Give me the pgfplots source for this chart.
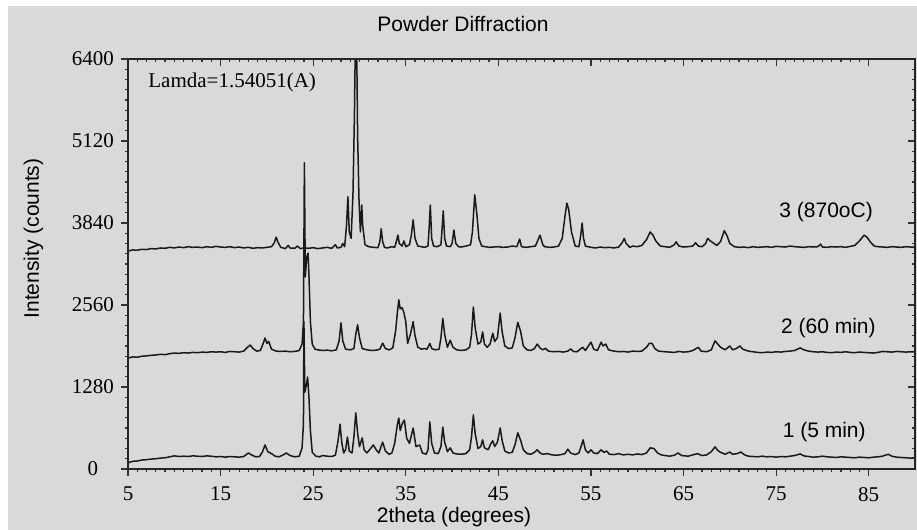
\documentclass[border=0pt]{standalone}
\usepackage{fontspec}
\setmainfont{Liberation Serif}
\setsansfont{Liberation Sans}
\usepackage{pgfplots}
\pgfplotsset{compat=1.18}
\definecolor{bg}{gray}{0.85}
\newcommand{\fs}{\fontsize{10.5}{12}\selectfont}

\pgfplotstableread{
x y
5 3400
5.5 3420
6 3415
6.5 3430
7 3425
7.5 3440
8 3435
8.5 3450
9 3445
9.5 3460
10 3450
10.5 3465
11 3455
11.5 3470
12 3460
12.5 3465
13 3455
13.5 3470
14 3460
14.5 3475
15 3465
15.5 3460
16 3470
16.5 3455
17 3465
17.5 3450
18 3460
18.5 3445
19 3455
19.5 3450
20 3460
20.5 3470
20.8 3530
21.0 3620
21.2 3540
21.5 3460
22 3440
22.3 3490
22.5 3450
23 3445
23.3 3480
23.6 3440
24 3450
24.5 3445
25 3455
25.5 3440
26 3450
26.5 3460
27 3445
27.4 3500
27.6 3450
28 3460
28.2 3520
28.4 3470
28.6 3800
28.75 4250
28.9 3700
29.1 3600
29.3 4300
29.45 5480
29.55 6600
29.7 6600
29.8 5200
29.95 4200
30.1 3700
30.25 4120
30.35 3800
30.6 3500
31 3470
31.5 3460
32 3455
32.2 3550
32.35 3750
32.5 3550
32.7 3460
33 3450
33.5 3470
33.8 3460
34 3560
34.15 3650
34.3 3520
34.6 3480
34.8 3560
35 3470
35.4 3500
35.6 3650
35.8 3890
36 3600
36.3 3480
36.7 3470
37 3460
37.4 3480
37.5 3700
37.65 4120
37.8 3600
38 3480
38.4 3470
38.8 3500
38.9 3700
39.05 4030
39.2 3600
39.4 3480
39.8 3470
40 3520
40.2 3730
40.4 3520
40.7 3470
41 3465
41.5 3480
42 3500
42.2 3700
42.45 4280
42.7 3950
42.9 3600
43.2 3480
43.6 3470
44 3460
44.5 3465
45 3470
45.5 3460
46 3465
46.5 3480
47 3470
47.3 3590
47.5 3470
48 3460
48.5 3470
49 3480
49.5 3650
49.8 3500
50 3470
50.5 3460
51 3465
51.5 3480
51.9 3600
52.2 3950
52.4 4150
52.6 4050
52.9 3700
53.3 3480
53.7 3470
53.9 3650
54.05 3840
54.2 3600
54.4 3480
55 3460
55.5 3450
56 3465
56.5 3455
57 3460
57.5 3450
58 3465
58.4 3540
58.6 3600
58.8 3520
59.2 3460
59.5 3480
60 3470
60.5 3490
61 3580
61.4 3700
61.7 3650
62 3560
62.5 3480
63 3470
63.5 3460
64 3500
64.2 3545
64.5 3480
65 3465
65.5 3470
66 3480
66.3 3530
66.6 3480
67 3470
67.4 3520
67.6 3600
67.9 3560
68.2 3530
68.6 3490
69.0 3550
69.4 3720
69.7 3640
70 3520
70.5 3470
71 3460
71.5 3465
72 3455
72.5 3470
73 3460
73.5 3465
74 3470
74.5 3460
75 3475
75.5 3470
76 3465
76.5 3480
77 3470
77.5 3465
78 3460
78.5 3470
79 3465
79.5 3470
79.8 3510
80 3465
80.5 3460
81 3470
81.5 3465
82 3470
82.5 3460
83 3475
83.5 3490
84 3560
84.5 3650
84.8 3620
85.2 3540
85.6 3480
86 3470
86.5 3465
87 3460
87.5 3470
88 3465
88.5 3460
89 3470
89.5 3465
90 3460
}\curvethree

\pgfplotstableread{
x y
5 1730
5.5 1750
6 1745
6.5 1760
7 1765
7.5 1775
8 1780
8.5 1790
9 1785
9.5 1800
10 1810
10.5 1805
11 1815
11.5 1810
12 1820
12.5 1815
13 1825
13.5 1820
14 1830
14.5 1825
15 1830
15.5 1820
16 1835
16.5 1830
17 1825
17.5 1840
17.9 1900
18.2 1935
18.5 1880
18.9 1840
19.3 1850
19.6 1960
19.8 2045
20.0 1960
20.2 1990
20.5 1870
21 1840
21.5 1835
22 1840
22.5 1830
23 1835
23.5 1850
23.8 1950
23.95 2300
24.05 4780
24.15 3000
24.3 3300
24.45 3370
24.55 3000
24.7 2300
24.9 1950
25.2 1870
25.5 1860
26 1850
26.5 1855
27 1845
27.5 1860
27.8 2000
28.0 2280
28.2 2000
28.5 1870
29 1860
29.4 1880
29.6 2100
29.8 2250
30 2050
30.3 1880
30.8 1860
31.3 1850
31.8 1855
32.2 1870
32.5 1965
32.8 1880
33.2 1860
33.6 1890
33.9 2150
34.1 2450
34.25 2640
34.4 2500
34.6 2520
34.8 2440
35.0 2300
35.2 1960
35.5 2100
35.8 2300
36.0 2080
36.3 1900
36.7 1870
37 1880
37.3 1870
37.6 1960
37.8 1880
38.2 1860
38.6 1870
38.8 2050
39.0 2350
39.2 2100
39.5 1900
39.8 2010
40.1 1900
40.5 1860
41 1850
41.5 1860
41.9 1900
42.1 2100
42.3 2530
42.5 2200
42.8 1950
43.1 1980
43.3 2140
43.5 1950
43.8 1900
44.1 1950
44.4 2120
44.6 1990
44.9 2050
45.2 2435
45.4 2150
45.7 1920
46.1 1880
46.5 1890
46.8 2050
47.1 2290
47.4 2150
47.7 1920
48.1 1860
48.5 1850
48.9 1880
49.2 1950
49.5 1890
49.8 1860
50.1 1885
50.4 1840
51 1830
51.5 1835
52 1825
52.5 1840
52.8 1875
53.1 1835
53.5 1830
54.1 1900
54.4 1850
55.0 1980
55.3 1870
55.7 1850
56.1 1980
56.3 1920
56.6 1950
56.9 1860
57.5 1840
58 1830
58.5 1835
59 1825
59.5 1840
60 1835
60.5 1840
61.0 1900
61.3 1960
61.6 1960
61.9 1880
62.3 1840
63 1830
63.5 1825
64 1820
64.5 1835
65 1825
65.5 1830
66 1850
66.6 1900
66.9 1840
67.5 1830
68 1860
68.4 2000
68.7 1950
69 1900
69.5 1860
70 1920
70.3 1860
70.7 1880
71.1 1920
71.4 1870
72 1840
72.5 1830
73 1820
73.5 1815
74 1825
74.5 1820
75 1830
75.5 1825
76 1835
76.5 1840
77 1850
77.6 1890
78 1860
78.5 1840
79 1830
79.5 1825
80 1830
80.5 1820
81 1815
81.5 1825
82 1820
82.5 1830
83 1820
83.5 1815
84 1825
84.5 1820
85 1815
85.5 1810
86 1820
86.5 1835
87 1830
87.5 1825
88 1835
88.5 1830
89 1825
89.5 1830
90 1825
}\curvetwo

\pgfplotstableread{
x y
5 95
5.5 120
6 125
6.5 140
7 145
7.5 155
8 160
8.5 170
9 175
9.5 190
10 205
10.5 195
11 200
11.5 195
12 205
12.5 200
13 195
13.5 205
14 200
14.5 190
15 195
15.5 185
16 195
16.5 190
17 185
17.5 195
18 250
18.4 215
18.8 190
19.2 195
19.5 260
19.8 375
20.1 270
20.5 240
20.9 200
21.3 190
21.7 215
22.1 250
22.5 210
23 190
23.5 200
23.8 330
23.95 700
24.0 2300
24.1 1200
24.25 1300
24.4 1436
24.55 1100
24.7 600
24.9 260
25.3 200
25.7 190
26 210
26.5 200
27 195
27.4 215
27.7 450
27.9 700
28.1 400
28.3 250
28.5 300
28.7 500
28.9 280
29.2 250
29.4 500
29.6 875
29.8 560
30.0 350
30.3 485
30.5 300
30.8 250
31.2 320
31.5 375
31.8 300
32.1 250
32.5 420
32.8 280
33.2 230
33.5 250
33.8 400
34.1 700
34.25 795
34.4 600
34.6 700
34.85 765
35.1 480
35.4 400
35.8 640
36.1 350
36.5 375
36.8 250
37.2 230
37.4 300
37.6 735
37.8 400
38.1 250
38.5 240
38.8 350
39.0 655
39.2 420
39.5 270
39.8 330
40.1 250
40.5 235
41 230
41.5 240
41.9 300
42.1 500
42.3 845
42.5 550
42.8 320
43.1 350
43.3 455
43.5 330
43.9 300
44.2 400
44.4 440
44.6 350
44.9 420
45.2 640
45.4 450
45.7 280
46.1 250
46.5 260
46.8 380
47.1 565
47.4 450
47.7 300
48.1 240
48.5 230
48.9 260
49.2 300
49.5 250
49.8 230
50.3 240
50.8 220
51.3 215
51.8 225
52.2 240
52.5 310
52.8 250
53.3 225
53.7 250
54.0 380
54.15 455
54.4 300
54.7 250
55.0 300
55.3 250
55.7 240
56.1 300
56.4 260
56.7 280
57 230
57.5 225
58 240
58.5 220
59 230
59.5 220
60 235
60.5 225
61 250
61.4 330
61.8 320
62.2 250
62.6 220
63 210
63.5 200
64 215
64.4 250
64.8 210
65.5 200
66 220
66.5 240
67 210
67.5 220
68 270
68.4 345
68.7 290
69 260
69.5 230
70 265
70.3 230
70.8 240
71.2 265
71.6 220
72 200
72.5 195
73 190
73.5 200
74 190
74.5 195
75 185
75.5 195
76 190
76.5 200
77 210
77.6 235
78 205
78.5 195
79 185
79.5 190
80 200
80.5 190
81 185
81.5 180
82 190
82.5 185
83 180
83.5 175
84 185
84.5 180
85 175
85.5 185
86 190
86.5 200
87.1 230
87.5 200
88 185
88.5 180
89 175
89.5 170
90 175
}\curveone

\begin{document}
\begin{tikzpicture}
\fill[white] (0,0) rectangle (458.5pt,265pt);
\fill[bg] (4pt,0) rectangle (458.5pt,262pt);
\useasboundingbox (0,0) rectangle (458.5pt,265pt);
\pgfplotsset{
  common/.style={
    at={(64pt,30.5pt)}, anchor=south west,
    scale only axis, width=393.5pt, height=205pt,
    xmin=5, xmax=90, ymin=0, ymax=6400,
    xtick={5,15,...,85}, ytick={0,1280,...,6400},
    minor x tick num=9, minor y tick num=7,
    major tick length=3.5pt, minor tick length=1.6pt,
    axis line style={line width=0.8pt, black!85},
    every tick/.style={line width=0.6pt, black!80},
    /pgf/number format/assume math mode=true,
    /pgf/number format/1000 sep={},
    tick label style={font=\fs},
  }
}
\begin{axis}[common,
    xtick pos=left, ytick pos=left, tick align=outside,
    yticklabel style={text width=21pt, align=center},
    xticklabel style={yshift=-2pt},
    clip=true]
\addplot[black!90, line width=0.75pt, line join=round] table[x=x,y=y] {\curveone};
\addplot[black!90, line width=0.75pt, line join=round] table[x=x,y=y] {\curvetwo};
\addplot[black!90, line width=0.75pt, line join=round] table[x=x,y=y] {\curvethree};
\node[font=\sffamily\fs] at (axis cs:80.4,4012) {3 (870oC)};
\node[font=\sffamily\fs] at (axis cs:80.65,2201) {2 (60 min)};
\node[font=\sffamily\fs] at (axis cs:80.2,578) {1 (5 min)};
\end{axis}
\begin{axis}[common,
    xtick pos=right, ytick pos=right, tick align=inside,
    xticklabels={}, yticklabels={}]
\end{axis}
\node[font=\sffamily\fs] at (231.5pt,253pt) {Powder Diffraction};
\node[font=\sffamily\fs] at (227pt,6.5pt) {2theta (degrees)};
\node[font=\sffamily\fs, rotate=90] at (16.75pt,145.75pt) {Intensity (counts)};
\node[font=\fs, anchor=west, inner sep=0pt] at (74pt,224pt) {Lamda=1.54051(A)};
\end{tikzpicture}
\end{document}
